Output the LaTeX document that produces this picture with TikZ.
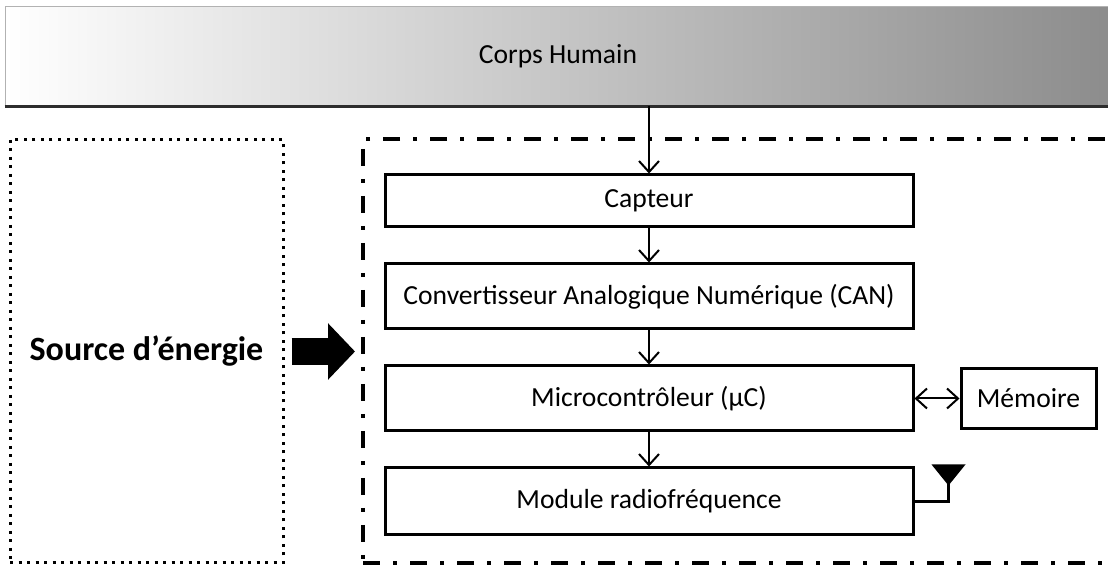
\documentclass[tikz,border=0pt]{standalone}
\usepackage{fontspec}
\setmainfont{Carlito}
\usetikzlibrary{positioning,calc,arrows.meta}
\tikzstyle{bloc} = [rectangle, draw, line width=1.5pt, minimum width=264pt,
    minimum height=32.5pt, inner sep=0pt, text centered]
\tikzstyle{petit} = [rectangle, draw, line width=1.5pt, minimum width=67.5pt,
    minimum height=30pt, inner sep=0pt]
\tikzstyle{fleche} = [line width=1pt, -{Straight Barb[length=5.5pt,width=10pt]}]
\tikzstyle{grossefleche} = [line width=13.5pt, -{Triangle[length=13.5pt,width=27.5pt]}]

\begin{document}
\begin{tikzpicture}[x=0.5pt, y=-0.5pt, node distance=17pt,
    font=\fontsize{13.8}{16}\selectfont]

    \useasboundingbox (0,0) rectangle (1108,565);

    % Nodes
    \node [rectangle, draw=gray!60, line width=0.5pt, left color=white, right color=black!45,
        minimum width=553pt, minimum height=49.5pt] (corps) at (558,56.5) {Corps Humain};
    \draw [gray!35!black, line width=1.5pt] (corps.south west) -- (corps.south east);

    \node [rectangle, draw, line width=1.5pt, dash pattern=on 1.5pt off 2.75pt,
        minimum width=136.5pt, minimum height=211.5pt,
        font=\fontsize{17}{20}\selectfont\bfseries] (source) at (146.5,351.5) {Source d’énergie};
    \node [rectangle, draw, line width=2pt, dash pattern=on 8.5pt off 6.5pt on 2pt off 6.5pt,
        minimum width=385pt, minimum height=212pt] (systeme) at (748,351) {};

    \node [bloc, minimum height=26pt] (capteur) at (649,201) {Capteur};
    \node [bloc, below=of capteur] (can) {Convertisseur Analogique Numérique (CAN)};
    \node [bloc, below=of can] (micro) {Microcontrôleur (µC)};
    \node [bloc, below=of micro, minimum height=33.5pt] (module) {Module radiofréquence};
    \node [petit, right=22.5pt of micro] (memoire) {Mémoire};
    \coordinate (antenne) at ($(module.east)+(34,-18)$);

    % Connections
    \draw [fleche] (corps.south -| capteur.north) -- (capteur.north);
    \draw [fleche] (capteur) -- (can);
    \draw [fleche] (can) -- (micro);
    \draw [fleche] (micro) -- (module);
    \draw [line width=1pt, {Straight Barb[length=5.5pt,width=10pt]}-{Straight Barb[length=5.5pt,width=10pt]}]
        (micro) -- (memoire);
    \draw [line width=1.5pt] (module.east) -| (antenne);
    \fill (antenne) ++(0,2) -- ++(-17,-21) -- ++(34,0) -- cycle;
    \draw [grossefleche] ($(source.east)+(7,0)$) -- ($(systeme.west |- source.east)+(-6,0)$);

\end{tikzpicture}
\end{document}
